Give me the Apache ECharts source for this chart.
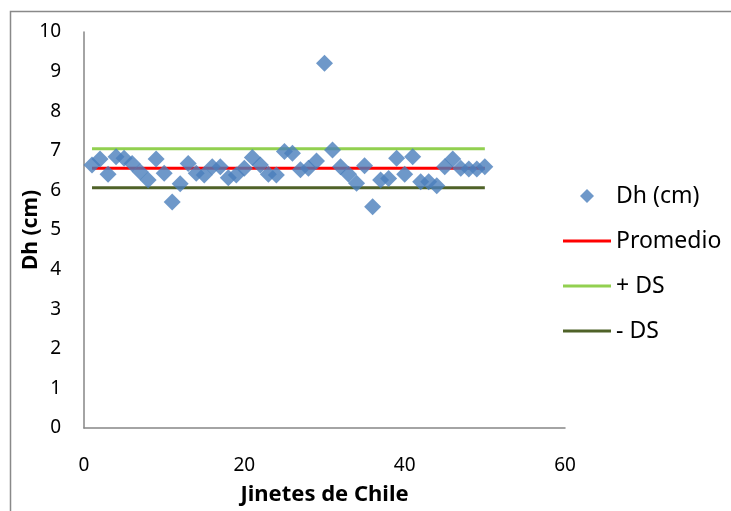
<!DOCTYPE html>
<html>
<head>
<meta charset="utf-8">
<script src="https://cdn.jsdelivr.net/npm/echarts@6/dist/echarts.min.js"></script>
<style>
html,body{margin:0;padding:0;background:#fff;}
#c{width:731px;height:511px;}
</style>
</head>
<body>
<div id="c"></div>
<script>
// Data
const jinetes = [1,2,3,4,5,6,7,8,9,10,11,12,13,14,15,16,17,18,19,20,21,22,23,24,25,26,27,28,29,30,31,32,33,34,35,36,37,38,39,40,41,42,43,44,45,46,47,48,49,50];
const dh = [6.64,6.79,6.41,6.85,6.81,6.68,6.47,6.26,6.79,6.43,5.71,6.17,6.68,6.43,6.39,6.60,6.60,6.32,6.39,6.56,6.83,6.64,6.41,6.39,6.98,6.94,6.52,6.56,6.74,9.21,7.02,6.60,6.41,6.18,6.62,5.59,6.26,6.30,6.81,6.41,6.85,6.22,6.22,6.12,6.60,6.79,6.56,6.54,6.54,6.60];
const lineX = [1, 50];
const promedio = [6.56, 6.56];
const masDS = [7.05, 7.05];
const menosDS = [6.07, 6.07];
const xTicks = {min: 0, max: 60, interval: 20};
const yTicks = {min: 0, max: 10, interval: 1};

const FONT = "'Noto Sans', 'Open Sans', sans-serif";
const chart = echarts.init(document.getElementById('c'), null, {renderer: 'canvas'});
const pair = (xs, ys) => xs.map((x, i) => [x, ys[i]]);
const LINE_ICON = 'path://M0,0L48,0L48,3L0,3Z';

chart.setOption({
  animation: false,
  backgroundColor: '#ffffff',
  textStyle: {fontFamily: FONT},
  graphic: [{
    type: 'rect', silent: true, z: -1,
    shape: {x: 10.5, y: 11.5, width: 900, height: 700},
    style: {fill: 'none', stroke: '#898989', lineWidth: 1.5}
  }],
  grid: {left: 84, right: 166, top: 32, bottom: 83, containLabel: false},
  xAxis: {
    type: 'value', min: xTicks.min, max: xTicks.max, interval: xTicks.interval,
    name: 'Jinetes de Chile', nameLocation: 'middle', nameGap: 56,
    nameTextStyle: {fontFamily: FONT, fontSize: 22, fontWeight: 'bold', color: '#000'},
    axisLine: {show: true, lineStyle: {color: '#868686', width: 1.5}},
    axisTick: {show: false},
    splitLine: {show: false},
    axisLabel: {fontFamily: FONT, fontSize: 19, color: '#000', margin: 28}
  },
  yAxis: {
    type: 'value', min: yTicks.min, max: yTicks.max, interval: yTicks.interval,
    name: 'Dh (cm)', nameLocation: 'middle', nameGap: 42, nameRotate: 90,
    nameMoveOverlap: false,
    nameTextStyle: {fontFamily: FONT, fontSize: 21, fontWeight: 'bold', color: '#000'},
    axisLine: {show: true, lineStyle: {color: '#868686', width: 1.5}},
    axisTick: {show: false},
    splitLine: {show: false},
    axisLabel: {fontFamily: FONT, fontSize: 19, color: '#000', margin: 23}
  },
  legend: {
    orient: 'vertical', left: 563, top: 184, padding: 0,
    itemWidth: 48, itemHeight: 14, itemGap: 21,
    textStyle: {fontFamily: FONT, fontSize: 23, color: '#000', lineHeight: 24},
    data: [
      {name: 'Dh (cm)', icon: 'path://M0,-1L1,0L0,1L-1,0Z'},
      {name: 'Promedio', icon: LINE_ICON},
      {name: '+ DS', icon: LINE_ICON},
      {name: '- DS', icon: LINE_ICON}
    ]
  },
  series: [
    {
      name: 'Dh (cm)', type: 'scatter', z: 5,
      symbol: 'diamond', symbolSize: 17,
      itemStyle: {color: '#4A7EBB'},
      data: pair(jinetes, dh)
    },
    {
      name: 'Promedio', type: 'line', z: 2, symbol: 'none',
      lineStyle: {color: '#FF0000', width: 3},
      itemStyle: {color: '#FF0000'},
      data: pair(lineX, promedio)
    },
    {
      name: '+ DS', type: 'line', z: 2, symbol: 'none',
      lineStyle: {color: '#92D050', width: 3},
      itemStyle: {color: '#92D050'},
      data: pair(lineX, masDS)
    },
    {
      name: '- DS', type: 'line', z: 2, symbol: 'none',
      lineStyle: {color: '#4F6228', width: 3},
      itemStyle: {color: '#4F6228'},
      data: pair(lineX, menosDS)
    }
  ]
});
</script>
</body>
</html>
